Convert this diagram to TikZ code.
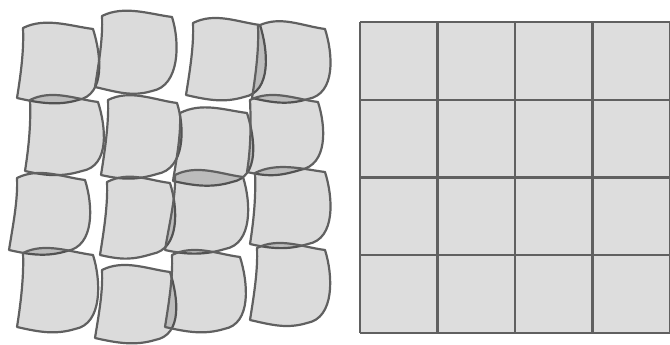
\documentclass[tikz,border=0pt]{standalone}
\usetikzlibrary{calc}
\definecolor{edgegray}{HTML}{606060}
\definecolor{cellgray}{HTML}{DDDDDD}
\tikzset{
  tilestyle/.style={draw=edgegray, line width=2.2pt, fill=black, fill opacity=0.14, draw opacity=1, line join=round},
  gridfill/.style={fill=cellgray},
  gridline/.style={draw=edgegray, line width=2.2pt}
}
% TLx TLy TRx TRy BRx BRy BLx BLy
\newcommand\wtile[8]{%
  \path[tilestyle] (#1,#2)
    .. controls ({#1+22},{#2-11}) and ({#3-23},{#4-3}) .. (#3,#4)
    .. controls ({#3+8},{#4+25}) and ({#5+28},{#6-5}) .. (#5,#6)
    .. controls ({#5-20},{#6+6}) and ({#7+22},{#8+5}) .. (#7,#8)
    .. controls ({#7+4},{#8-25}) and ({#1+1},{#2+22}) .. cycle;}
\begin{document}
\begin{tikzpicture}[x=1pt,y=-1pt]
\useasboundingbox (0,0) rectangle (670,345);
% right: regular grid
\fill[gridfill] (360,22) rectangle (670,333);
\foreach \gx in {360,437.5,515,592.5,670}{\draw[gridline] (\gx,22) -- (\gx,333);}
\foreach \gy in {22,99.75,177.5,255.25,333}{\draw[gridline] (360,\gy) -- (670,\gy);}
% left: wobbly tiles
\wtile{23}{28}{93}{29}{78}{100}{17}{98}
\wtile{102}{16}{172}{17}{152}{91}{95}{87}
\wtile{193}{23}{260}{25}{244}{97}{186}{95}
\wtile{258}{26}{325}{29}{308}{99}{252}{98}
\wtile{30}{100}{98}{102}{82}{171}{25}{171}
\wtile{108}{100}{177}{103}{157}{174}{101}{175}
\wtile{180}{113}{247}{113}{232}{182}{173}{181}
\wtile{250}{100}{318}{102}{300}{170}{247}{172}
\wtile{17}{178}{85}{180}{67}{251}{9}{250}
\wtile{107}{182}{170}{183}{152}{254}{100}{255}
\wtile{175}{175}{243}{177}{225}{249}{165}{250}
\wtile{255}{173}{325}{172}{308}{244}{250}{244}
\wtile{23}{253}{93}{255}{75}{329}{17}{327}
\wtile{102}{270}{170}{272}{155}{340}{95}{338}
\wtile{172}{255}{240}{257}{224}{329}{165}{327}
\wtile{257}{248}{325}{250}{307}{323}{250}{320}
\end{tikzpicture}
\end{document}
